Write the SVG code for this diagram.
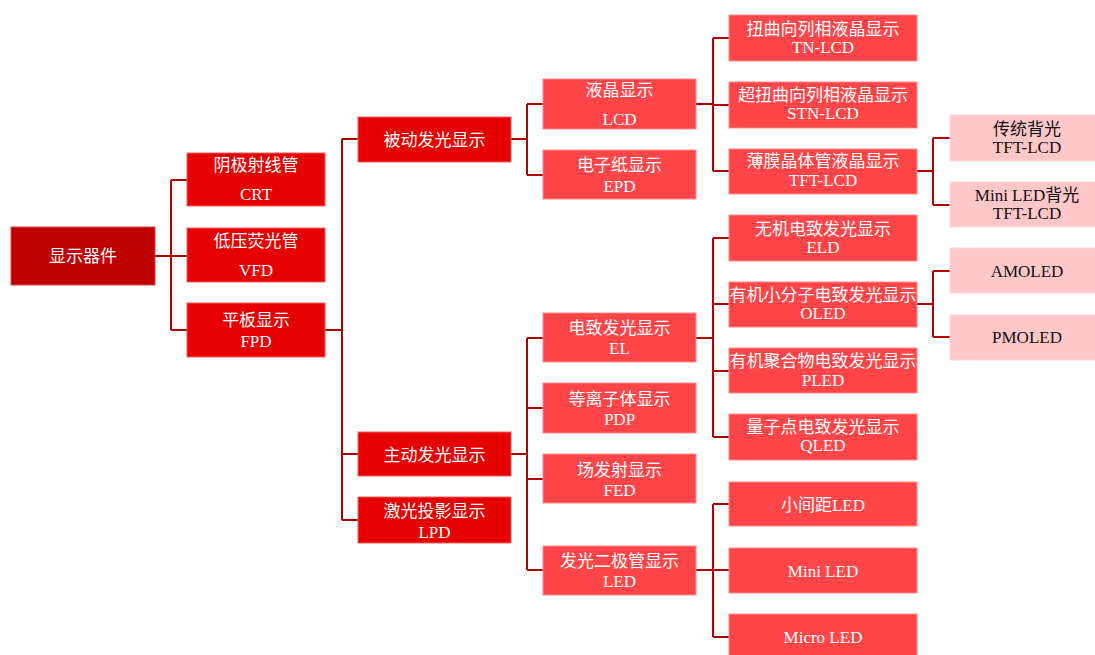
<svg xmlns="http://www.w3.org/2000/svg" width="1095" height="655" viewBox="0 0 1095 655">
<style>
rect{stroke-width:1}
.r0{fill:#C00000;stroke:#D84848}
.r1{fill:#E60000;stroke:#F06060}
.r3{fill:#FF4548;stroke:#FF8A8C}
.r5{fill:#FFC7C8;stroke:#FFD8D8}
text{font-family:"Liberation Serif","Noto Sans CJK SC",serif;font-size:17px;text-anchor:middle}
.w{fill:#FFFFFF}
.k{fill:#111111}
#connectors path{fill:none;stroke:#B00000;stroke-width:2}
</style>
<rect width="1095" height="655" fill="#FFFFFF"/>
<g id="connectors">
<path d="M155 256H171M171 180V330M171 180H187M171 256H187M171 330H187"/>
<path d="M325 330H342M342 139V520M342 139H358M342 454H358M342 520H358"/>
<path d="M511 139H527M527 104V175M527 104H543M527 175H543"/>
<path d="M511 454H527M527 338V570M527 338H543M527 408H543M527 479H543M527 570H543"/>
<path d="M696 104H713M713 38V171M713 38H729M713 105H729M713 171H729"/>
<path d="M696 338H713M713 238V437M713 238H729M713 304H729M713 371H729M713 437H729"/>
<path d="M696 570H713M713 504V637M713 504H729M713 570H729M713 637H729"/>
<path d="M917 171H933M933 138V205M933 138H950M933 205H950"/>
<path d="M917 304H933M933 271V337M933 271H950M933 337H950"/>
</g>
<g id="n-root"><rect class="r0" x="11" y="227" width="144" height="58"/><text class="w" x="83" y="262">显示器件</text></g>
<g id="n-crt"><rect class="r1" x="187" y="153" width="138" height="53"/><text class="w" x="256" y="171">阴极射线管</text><text class="w" x="256" y="200">CRT</text></g>
<g id="n-vfd"><rect class="r1" x="187" y="228" width="138" height="54"/><text class="w" x="256" y="247">低压荧光管</text><text class="w" x="256" y="276">VFD</text></g>
<g id="n-fpd"><rect class="r1" x="187" y="303" width="138" height="54"/><text class="w" x="256" y="326">平板显示</text><text class="w" x="256" y="347">FPD</text></g>
<g id="n-passive"><rect class="r1" x="358" y="117" width="153" height="45"/><text class="w" x="434.5" y="146">被动发光显示</text></g>
<g id="n-active"><rect class="r1" x="358" y="432" width="153" height="44"/><text class="w" x="434.5" y="461">主动发光显示</text></g>
<g id="n-lpd"><rect class="r1" x="358" y="497" width="153" height="46"/><text class="w" x="434.5" y="517">激光投影显示</text><text class="w" x="434.5" y="538">LPD</text></g>
<g id="n-lcd"><rect class="r3" x="543" y="79" width="153" height="50"/><text class="w" x="619.5" y="96">液晶显示</text><text class="w" x="619.5" y="125">LCD</text></g>
<g id="n-epd"><rect class="r3" x="543" y="150" width="153" height="49"/><text class="w" x="619.5" y="171">电子纸显示</text><text class="w" x="619.5" y="192">EPD</text></g>
<g id="n-el"><rect class="r3" x="543" y="313" width="153" height="49"/><text class="w" x="619.5" y="334">电致发光显示</text><text class="w" x="619.5" y="354">EL</text></g>
<g id="n-pdp"><rect class="r3" x="543" y="383" width="153" height="50"/><text class="w" x="619.5" y="405">等离子体显示</text><text class="w" x="619.5" y="425">PDP</text></g>
<g id="n-fed"><rect class="r3" x="543" y="454" width="153" height="49"/><text class="w" x="619.5" y="476">场发射显示</text><text class="w" x="619.5" y="496">FED</text></g>
<g id="n-led"><rect class="r3" x="543" y="546" width="153" height="49"/><text class="w" x="619.5" y="567">发光二极管显示</text><text class="w" x="619.5" y="587">LED</text></g>
<g id="n-tn"><rect class="r3" x="729" y="15" width="188" height="46"/><text class="w" x="823" y="35">扭曲向列相液晶显示</text><text class="w" x="823" y="53">TN-LCD</text></g>
<g id="n-stn"><rect class="r3" x="729" y="82" width="188" height="46"/><text class="w" x="823" y="101">超扭曲向列相液晶显示</text><text class="w" x="823" y="119">STN-LCD</text></g>
<g id="n-tft"><rect class="r3" x="729" y="149" width="188" height="45"/><text class="w" x="823" y="167">薄膜晶体管液晶显示</text><text class="w" x="823" y="186">TFT-LCD</text></g>
<g id="n-eld"><rect class="r3" x="729" y="215" width="188" height="46"/><text class="w" x="823" y="235">无机电致发光显示</text><text class="w" x="823" y="253">ELD</text></g>
<g id="n-oled"><rect class="r3" x="729" y="282" width="188" height="45"/><text class="w" x="823" y="301">有机小分子电致发光显示</text><text class="w" x="823" y="319">OLED</text></g>
<g id="n-pled"><rect class="r3" x="729" y="348" width="188" height="45"/><text class="w" x="823" y="367">有机聚合物电致发光显示</text><text class="w" x="823" y="386">PLED</text></g>
<g id="n-qled"><rect class="r3" x="729" y="414" width="188" height="46"/><text class="w" x="823" y="433">量子点电致发光显示</text><text class="w" x="823" y="451">QLED</text></g>
<g id="n-fine"><rect class="r3" x="729" y="482" width="188" height="44"/><text class="w" x="823" y="511">小间距LED</text></g>
<g id="n-mini"><rect class="r3" x="729" y="548" width="188" height="45"/><text class="w" x="823" y="577">Mini LED</text></g>
<g id="n-micro"><rect class="r3" x="729" y="614" width="188" height="45"/><text class="w" x="823" y="643">Micro LED</text></g>
<g id="n-cbl"><rect class="r5" x="950" y="115" width="154" height="46"/><text class="k" x="1027" y="135">传统背光</text><text class="k" x="1027" y="153">TFT-LCD</text></g>
<g id="n-mbl"><rect class="r5" x="950" y="182" width="154" height="45"/><text class="k" x="1027" y="201">Mini LED背光</text><text class="k" x="1027" y="219">TFT-LCD</text></g>
<g id="n-amoled"><rect class="r5" x="950" y="248" width="154" height="45"/><text class="k" x="1027" y="277">AMOLED</text></g>
<g id="n-pmoled"><rect class="r5" x="950" y="315" width="154" height="45"/><text class="k" x="1027" y="343">PMOLED</text></g>
</svg>
